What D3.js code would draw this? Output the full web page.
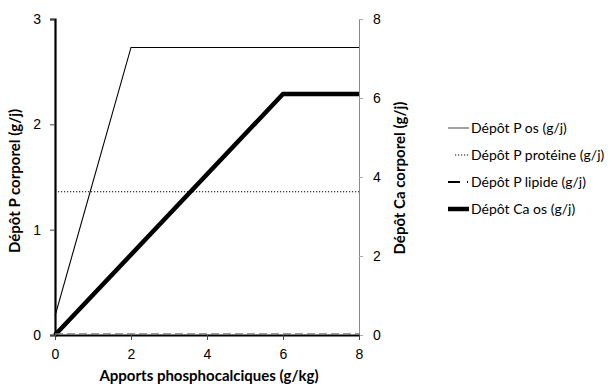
<!DOCTYPE html>
<html>
<head>
<meta charset="utf-8">
<script src="https://cdn.jsdelivr.net/npm/d3@7"></script>
<style>
  body { margin: 0; background: #fff; }
  svg { font-family: Lato, "Open Sans", sans-serif; }
</style>
</head>
<body>
<div id="chart"></div>
<script>
// values
const pOs = [[0, 0.18], [2, 2.73], [8, 2.73]];
const pProteine = [[0, 1.36], [8, 1.36]];
const pLipide = [[0, 0.01], [8, 0.01]];
const caOs = [[0, 0], [6, 6.1], [8, 6.1]];
const xTicks = [0, 2, 4, 6, 8];
const yLeftTicks = [0, 1, 2, 3];
const yRightTicks = [0, 2, 4, 6, 8];
const legendLabels = ['Dépôt P os (g/j)', 'Dépôt P protéine (g/j)', 'Dépôt P lipide (g/j)', 'Dépôt Ca os (g/j)'];

const width = 614, height = 389;
const m = { left: 55, right: 359, top: 19, bottom: 335 };

const svg = d3.select('#chart').append('svg')
  .attr('width', width)
  .attr('height', height);

const x = d3.scaleLinear().domain([0, 8]).range([m.left, m.right]);
const yL = d3.scaleLinear().domain([0, 3]).range([m.bottom, m.top]);
const yR = d3.scaleLinear().domain([0, 8]).range([m.bottom, m.top]);

// right axis (thin grey)
const gR = svg.append('g').attr('transform', `translate(${m.right},0)`)
  .call(d3.axisRight(yR).tickValues(yRightTicks).tickSize(4).tickPadding(10));
gR.select('.domain').attr('stroke', '#888').attr('stroke-width', 1);
gR.selectAll('.tick line').attr('stroke', '#aaa');
gR.selectAll('.tick text').attr('font-size', 14).attr('fill', '#000');

// series
const lineL = d3.line().x(d => x(d[0])).y(d => yL(d[1]));
const lineR = d3.line().x(d => x(d[0])).y(d => yR(d[1]));

svg.append('path').datum(pProteine).attr('d', lineL)
  .attr('fill', 'none').attr('stroke', '#000').attr('stroke-width', 1.2)
  .attr('stroke-dasharray', '1.2,1.8');
svg.append('path').datum(pOs).attr('d', lineL)
  .attr('fill', 'none').attr('stroke', '#000').attr('stroke-width', 1.1);
svg.append('path').datum(caOs).attr('d', lineR)
  .attr('fill', 'none').attr('stroke', '#000').attr('stroke-width', 4.5);

// left axis
const gL = svg.append('g').attr('transform', `translate(${m.left},0)`)
  .call(d3.axisLeft(yL).tickValues(yLeftTicks).tickSize(5).tickPadding(9).tickFormat(d3.format('d')));
gL.select('.domain').attr('stroke', '#000').attr('stroke-width', 2.2);
gL.selectAll('.tick line').attr('stroke', '#444');
gL.selectAll('.tick text').attr('font-size', 14).attr('fill', '#000');

// bottom axis
const gX = svg.append('g').attr('transform', `translate(0,${m.bottom})`)
  .call(d3.axisBottom(x).tickValues(xTicks).tickSize(5).tickPadding(9).tickSizeOuter(0));
gX.select('.domain').attr('stroke', '#000').attr('stroke-width', 2.2);
gX.selectAll('.tick line').attr('stroke', '#444');
gX.selectAll('.tick text').attr('font-size', 14).attr('fill', '#000');

svg.append('path').datum(pLipide).attr('d', lineL)
  .attr('fill', 'none').attr('stroke', '#777').attr('stroke-width', 1.5)
  .attr('stroke-dasharray', '8,4');

// axis titles
svg.append('text')
  .attr('x', 209).attr('y', 381)
  .attr('text-anchor', 'middle').attr('font-size', 15).attr('font-weight', 'bold')
  .text('Apports phosphocalciques (g/kg)');
svg.append('text')
  .attr('transform', `translate(20,181) rotate(-90)`)
  .attr('text-anchor', 'middle').attr('font-size', 15).attr('font-weight', 'bold')
  .text('Dépôt P corporel (g/j)');
svg.append('text')
  .attr('transform', `translate(405,178) rotate(-90)`)
  .attr('text-anchor', 'middle').attr('font-size', 15).attr('font-weight', 'bold')
  .text('Dépôt Ca corporel (g/j)');

// legend
const styles = [
  { w: 1.1, dash: null, x1: 448, c: '#555' },
  { w: 1.2, dash: '1.2,1.8', x1: 455, c: '#000' },
  { w: 2, dash: '12,7,1,10', x1: 448, c: '#000' },
  { w: 4.5, dash: null, x1: 448, c: '#000' }
];
const lg = svg.append('g').selectAll('g').data(legendLabels).join('g')
  .attr('transform', (d, i) => `translate(0,${128 + i * 27})`);
lg.append('line')
  .attr('x1', (d, i) => styles[i].x1).attr('x2', 469)
  .attr('stroke', (d, i) => styles[i].c)
  .attr('stroke-width', (d, i) => styles[i].w)
  .attr('stroke-dasharray', (d, i) => styles[i].dash);
lg.append('text')
  .attr('x', 471).attr('y', 5)
  .attr('font-size', 14)
  .text(d => d);
</script>
</body>
</html>
